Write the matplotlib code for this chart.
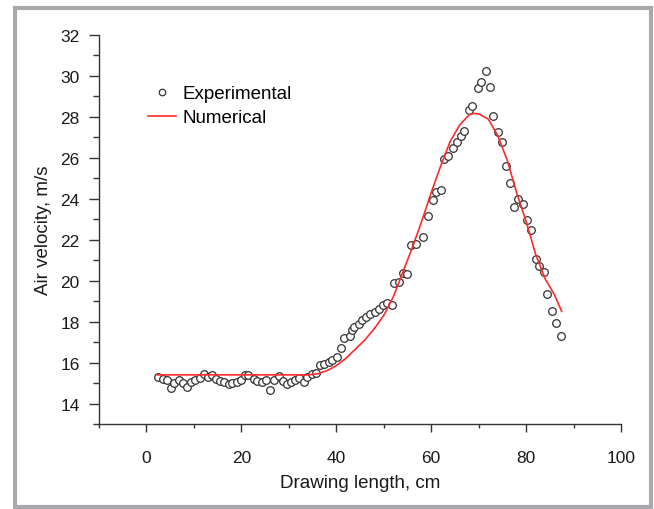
import matplotlib

matplotlib.use("Agg")
import matplotlib.pyplot as plt
from matplotlib.patches import Rectangle
from matplotlib.ticker import MultipleLocator

plt.rcParams["font.family"] = ["Liberation Sans", "DejaVu Sans"]

# experimental points
exp_x = [2.4, 3.5, 4.4, 5.2, 5.9, 6.8, 7.7, 8.6, 9.4, 10.3, 11.2, 12.1, 12.9, 13.8,
         14.7, 15.6, 16.4, 17.3, 18.1, 19.1, 19.9, 20.8, 21.5, 22.6, 23.4, 24.4,
         25.1, 26.1, 26.9, 27.9, 28.7, 29.6, 30.5, 31.4, 32.2, 33.1, 33.9, 34.9,
         35.7, 36.6, 37.5, 38.4, 39.2, 40.1, 41.0, 41.7, 42.8, 43.3, 43.8, 44.7,
         45.5, 46.3, 47.2, 48.2, 49.1, 49.9, 50.7, 51.7, 52.2, 53.3, 54.0, 54.9,
         55.8, 56.9, 58.2, 59.4, 60.4, 61.1, 62.0, 62.8, 63.5, 64.7, 65.4, 66.2,
         67.0, 67.9, 68.7, 69.8, 70.6, 71.6, 72.4, 73.1, 74.1, 74.9, 75.8, 76.7,
         77.5, 78.4, 79.3, 80.2, 81.0, 82.1, 82.8, 83.7, 84.5, 85.4, 86.3, 87.3]
exp_y = [15.32, 15.21, 15.13, 14.77, 15.00, 15.16, 15.00, 14.83, 15.05, 15.16,
         15.26, 15.42, 15.29, 15.39, 15.19, 15.09, 15.03, 14.93, 15.00, 15.06,
         15.16, 15.39, 15.39, 15.19, 15.09, 15.06, 15.16, 14.64, 15.16, 15.35,
         15.09, 14.96, 15.06, 15.16, 15.23, 15.05, 15.32, 15.45, 15.48, 15.86,
         15.95, 16.01, 16.11, 16.27, 16.70, 17.22, 17.29, 17.58, 17.74, 17.90,
         18.07, 18.23, 18.37, 18.48, 18.60, 18.81, 18.92, 18.81, 19.87, 19.95,
         20.36, 20.33, 21.75, 21.80, 22.13, 23.14, 23.92, 24.31, 24.45, 25.92,
         26.08, 26.50, 26.75, 27.06, 27.33, 28.34, 28.53, 29.39, 29.71, 30.25,
         29.48, 28.04, 27.28, 26.77, 25.60, 24.78, 23.60, 24.00, 23.76, 22.95,
         22.50, 21.05, 20.72, 20.44, 19.35, 18.53, 17.91, 17.29]

# numerical curve
num_x = [2.3, 34, 36, 38, 40, 42, 44, 46, 48, 50, 52, 54, 56, 58, 60, 62, 64, 66,
         68, 69, 70, 72, 74, 76, 78, 80, 82, 84, 86, 87.5]
num_y = [15.4, 15.4, 15.45, 15.6, 15.85, 16.2, 16.65, 17.1, 17.65, 18.3, 19.2,
         20.4, 21.6, 22.9, 24.3, 25.6, 26.8, 27.6, 28.1, 28.17, 28.15, 27.9, 27.1,
         25.9, 24.3, 22.9, 21.3, 20.1, 19.3, 18.5]

W, H = 654, 510
fig = plt.figure(figsize=(W / 100, H / 100), dpi=100)
ax = fig.add_axes([99 / W, 1 - 425 / H, (621 - 99) / W, (425 - 36) / H])

ax.plot(exp_x, exp_y, linestyle="none", marker="o", markersize=5.5,
        markerfacecolor="white", markeredgecolor="#333333", markeredgewidth=0.9,
        label="Experimental")
ax.plot(num_x, num_y, color="#ff2a2a", linewidth=1.2, label="Numerical")

ax.set_xlim(-10, 100)
ax.set_ylim(13, 32)
ax.xaxis.set_major_locator(MultipleLocator(20))
ax.xaxis.set_minor_locator(MultipleLocator(10))
ax.yaxis.set_minor_locator(MultipleLocator(1))
ax.set_yticks(range(14, 33, 2))

for s in ("top", "right"):
    ax.spines[s].set_visible(False)
for s in ("left", "bottom"):
    ax.spines[s].set_color("#333333")
    ax.spines[s].set_linewidth(1.0)
ax.tick_params(which="major", direction="out", length=6, width=1.0,
               color="#333333", labelsize=12.5, labelcolor="#1a1a1a")
ax.tick_params(which="minor", direction="out", length=3, width=1.0, color="#333333")
ax.tick_params(axis="y", which="major", length=7, pad=7)
ax.tick_params(axis="y", which="minor", length=4)
ax.tick_params(axis="x", which="major", pad=13)

ax.set_xlabel("Drawing length, cm", fontsize=13.5, color="#1a1a1a", labelpad=6)
ax.set_ylabel("Air velocity, m/s", fontsize=13.5, color="#1a1a1a", labelpad=6)

ax.legend(loc="upper left", bbox_to_anchor=(148 / W, 1 - 86 / H),
          bbox_transform=fig.transFigure, frameon=False, borderpad=0,
          borderaxespad=0, fontsize=13.5, handlelength=1.5, handletextpad=0.35,
          labelspacing=0.38, markerscale=0.85)

# grey frame round the whole picture
fig.patches.append(Rectangle((15 / W, 2.5 / H), 636 / W, 499 / H,
                             transform=fig.transFigure, fill=False,
                             edgecolor="#a7a9ac", linewidth=3.0))

fig.savefig("out.png", dpi=100)
